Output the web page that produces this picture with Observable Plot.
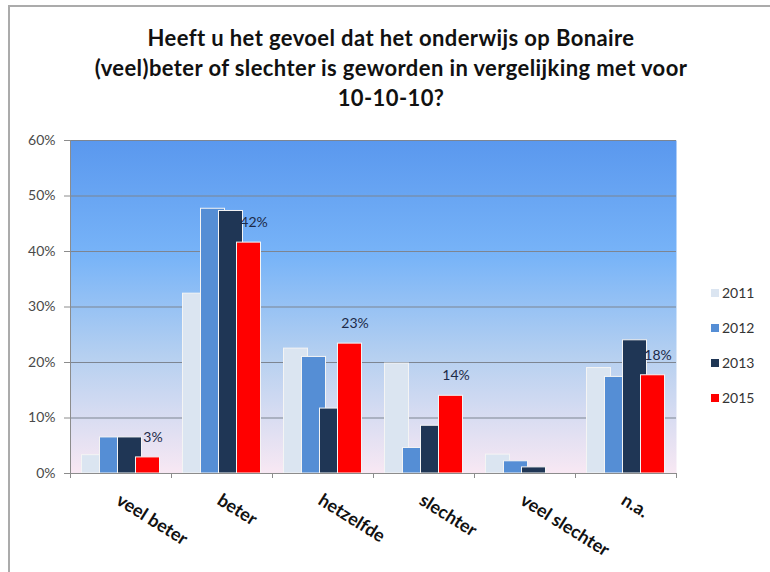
<!DOCTYPE html>
<html>
<head>
<meta charset="utf-8">
<script src="https://cdn.jsdelivr.net/npm/d3@7"></script>
<script src="https://cdn.jsdelivr.net/npm/@observablehq/plot@0.6"></script>
<style>
  html, body { margin: 0; padding: 0; background: #fff; width: 770px; height: 572px; overflow: hidden; }
  #frame { position: absolute; left: 8px; top: 5px; width: 800px; height: 600px;
           border-top: 2px solid #ababab; border-left: 2px solid #ababab; }
  #title { position: absolute; left: 0; top: 23px; width: 782px; text-align: center;
           font-family: Lato, "Open Sans", sans-serif; font-weight: bold; font-size: 22px;
           letter-spacing: 0.4px; line-height: 30px; color: #111; }
  #chart { position: absolute; left: 0; top: 125px; }
  #legend { position: absolute; left: 711px; top: 284px; font-family: Lato, sans-serif;
            font-size: 14px; color: #333; }
  .item { height: 35px; display: flex; align-items: flex-start; }
  .sw { width: 8px; height: 8px; margin-right: 3px; margin-top: 5px; }
</style>
</head>
<body>
<div id="frame"></div>
<div id="title">Heeft u het gevoel dat het onderwijs op Bonaire<br>(veel)beter of slechter is geworden in vergelijking met voor<br>10-10-10?</div>
<div id="chart"></div>
<div id="legend"></div>
<script>
const categories = ["veel beter", "beter", "hetzelfde", "slechter", "veel slechter", "n.a."];
const years = ["2011", "2012", "2013", "2015"];
const v2011 = [3.3, 32.4, 22.5, 19.8, 3.4, 19.0];
const v2012 = [6.5, 47.7, 21.0, 4.6, 2.2, 17.4];
const v2013 = [6.5, 47.3, 11.7, 8.6, 1.1, 24.0];
const v2015 = [2.9, 41.6, 23.4, 14.0, 0, 17.7];
const yTicks = [0, 10, 20, 30, 40, 50, 60];
const colors = ["#dbe5f1", "#558ed5", "#1f3655", "#ff0000"];

const series = [v2011, v2012, v2013, v2015];
const rows = [];
years.forEach((yr, i) => categories.forEach((c, j) => rows.push({year: yr, cat: c, value: series[i][j]})));
const labelRows = rows.filter(d => d.year === "2015" && d.value > 0);

const W = 770, H = 448, mL = 70, mR = 94, mT = 15, mB = 100;
const step = (W - mL - mR) / categories.length;
const barW = 24, shift = 18;
const inset = (step - barW) / 2;

const barMarks = years.map((yr, i) => Plot.barY(rows.filter(d => d.year === yr), {
  x: "cat", y: "value", fill: colors[i], stroke: "#f4f4f4", strokeWidth: 1,
  insetLeft: inset, insetRight: inset, dx: (i - 1.5) * shift
}));

const plot = Plot.plot({
  width: W, height: H,
  marginLeft: mL, marginRight: mR, marginTop: mT, marginBottom: mB,
  style: {background: "transparent", fontFamily: "Lato, sans-serif", overflow: "visible"},
  x: {domain: categories, padding: 0, axis: null, label: null},
  y: {domain: [0, 60], axis: null, label: null},
  marks: [
    Plot.frame({fill: "url(#bgGrad)", stroke: null}),
    Plot.gridY(yTicks, {stroke: "#7d8591", strokeOpacity: 1, strokeWidth: 1}),
    ...barMarks,
    Plot.text(labelRows, {x: "cat", y: "value", text: d => Math.round(d.value) + "%",
      dx: 1.5 * shift + 5, dy: -20, fill: "#1d2a48", fontSize: 14}),
    Plot.ruleY([0], {stroke: "#8c8c8c"}),
    Plot.ruleX([0], {x: () => categories[0], dx: -step / 2, stroke: "#8c8c8c", y1: 0, y2: 60}),
    Plot.axisY(yTicks, {tickSize: 6, tickPadding: 9, stroke: "#8c8c8c", fill: "#4a4a4a",
      fontSize: 14, tickFormat: d => d + "%", label: null}),
    Plot.axisX(categories, {tickSize: 5, tickFormat: () => "", dx: -step / 2, stroke: "#8c8c8c", label: null}),
    Plot.axisX([categories[categories.length - 1]], {tickSize: 5, tickFormat: () => "", dx: step / 2, stroke: "#8c8c8c", label: null}),
    Plot.axisX(categories, {tickSize: 0, tickPadding: 25, tickRotate: 32, fontSize: 18,
      fontWeight: "bold", fill: "#111", dx: -3, label: null})
  ]
});

const ns = "http://www.w3.org/2000/svg";
const defs = document.createElementNS(ns, "defs");
defs.innerHTML = `<linearGradient id="bgGrad" x1="0" y1="0" x2="0" y2="1">
  <stop offset="0" stop-color="#5a98ee"/>
  <stop offset="0.35" stop-color="#78b4f8"/>
  <stop offset="0.65" stop-color="#b6d0f0"/>
  <stop offset="1" stop-color="#f8e8f3"/>
</linearGradient>`;
plot.insertBefore(defs, plot.firstChild);
document.getElementById("chart").appendChild(plot);

const legend = document.getElementById("legend");
years.forEach((yr, i) => {
  const it = document.createElement("div");
  it.className = "item";
  it.innerHTML = `<span class="sw" style="background:${colors[i]}"></span><span>${yr}</span>`;
  legend.appendChild(it);
});
</script>
</body>
</html>
